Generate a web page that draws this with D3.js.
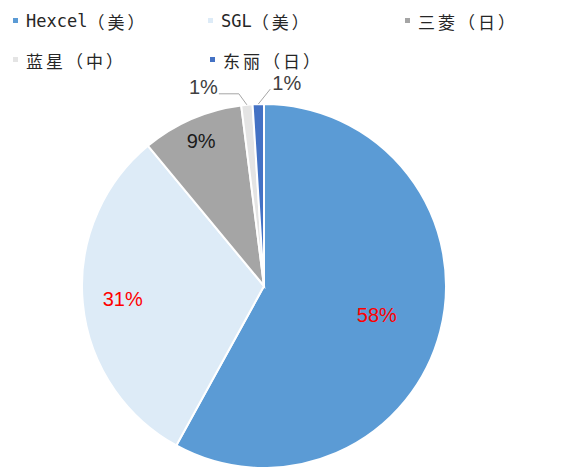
<!DOCTYPE html>
<html>
<head>
<meta charset="utf-8">
<script src="https://cdn.jsdelivr.net/npm/d3@7"></script>
<style>
  html, body { margin: 0; padding: 0; background: #fff; }
  svg { display: block; }
</style>
</head>
<body>
<svg id="chart" width="563" height="467"></svg>
<script>
// Market share of carbon fibre producers
const companies = ["Hexcel（美）", "SGL（美）", "三菱（日）", "蓝星（中）", "东丽（日）"];
const shares = [58, 31, 9, 1, 1];
const sliceColors = ["#5B9BD5", "#DDEBF7", "#A5A5A5", "#E4E4E4", "#4472C4"];
const labelColors = ["#FF0000", "#FF0000", "#1A1A1A", "#404040", "#404040"];

const svg = d3.select("#chart");
const cx = 264, cy = 286, radius = 182;

const data = companies.map((name, i) => ({ name, value: shares[i], color: sliceColors[i], labelColor: labelColors[i] }));

const pie = d3.pie().value(d => d.value).sort(null);
const arcs = pie(data);
const arc = d3.arc().innerRadius(0).outerRadius(radius);

const g = svg.append("g").attr("transform", `translate(${cx},${cy})`);

g.selectAll("path.slice")
  .data(arcs)
  .join("path")
  .attr("class", "slice")
  .attr("d", arc)
  .attr("fill", d => d.data.color)
  .attr("stroke", "#fff")
  .attr("stroke-width", 2);

// Label placement: large slices inside (radius fraction per slice),
// the two thin slices pulled out with leader lines
const labelFont = "Arial, 'Liberation Sans', sans-serif";
const labelSize = 20;
const insideFrac = [0.64, 0.78, 0.87];

const pointAt = (d, r) => {
  const a = (d.startAngle + d.endAngle) / 2;
  return [r * Math.sin(a), -r * Math.cos(a)];
};

arcs.forEach((d, i) => {
  const txt = d.data.value + "%";
  if (i < 3) {
    const c = pointAt(d, radius * insideFrac[i]);
    g.append("text")
      .attr("x", c[0]).attr("y", c[1])
      .attr("text-anchor", "middle")
      .attr("dominant-baseline", "central")
      .attr("font-family", labelFont)
      .attr("font-size", labelSize)
      .attr("fill", d.data.labelColor)
      .text(txt);
  } else {
    const p = pointAt(d, radius);
    let pts, tx, ty, anchor;
    if (i === 3) {
      pts = [p, [p[0] - 8, p[1] - 11], [p[0] - 28, p[1] - 11]];
      tx = pts[2][0] - 1; ty = pts[2][1] - 7; anchor = "end";
    } else {
      pts = [p, [p[0] + 12, p[1] - 15]];
      tx = pts[1][0] + 2; ty = pts[1][1] - 6; anchor = "start";
    }
    g.append("path")
      .attr("d", d3.line()(pts))
      .attr("fill", "none")
      .attr("stroke", "#A6A6A6")
      .attr("stroke-width", 1);
    g.append("text")
      .attr("x", tx).attr("y", ty)
      .attr("text-anchor", anchor)
      .attr("dominant-baseline", "central")
      .attr("font-family", labelFont)
      .attr("font-size", labelSize)
      .attr("fill", d.data.labelColor)
      .text(txt);
  }
});

// Legend: latin part in a mono face, CJK part spaced out
const legendPos = [[13, 21], [208, 21], [405, 21], [13, 60], [210, 60]];
const legend = svg.append("g");
data.forEach((d, i) => {
  const [x, y] = legendPos[i];
  legend.append("rect")
    .attr("x", x).attr("y", y - 3)
    .attr("width", 5).attr("height", 5)
    .attr("fill", d.color);
  const t = legend.append("text")
    .attr("x", x + 13).attr("y", y)
    .attr("dominant-baseline", "central")
    .attr("font-family", "'DejaVu Sans Mono', 'Noto Sans CJK SC', monospace")
    .attr("font-size", 17)
    .attr("fill", "#262626");
  const parts = d.name.match(/[A-Za-z]+|[^A-Za-z]+/g);
  parts.forEach(p => {
    const cjk = !/^[A-Za-z]+$/.test(p);
    t.append("tspan")
      .attr("font-family", cjk ? "'Noto Sans CJK SC', sans-serif" : null)
      .attr("letter-spacing", cjk ? 3 : 0)
      .text(p);
  });
});
</script>
</body>
</html>
